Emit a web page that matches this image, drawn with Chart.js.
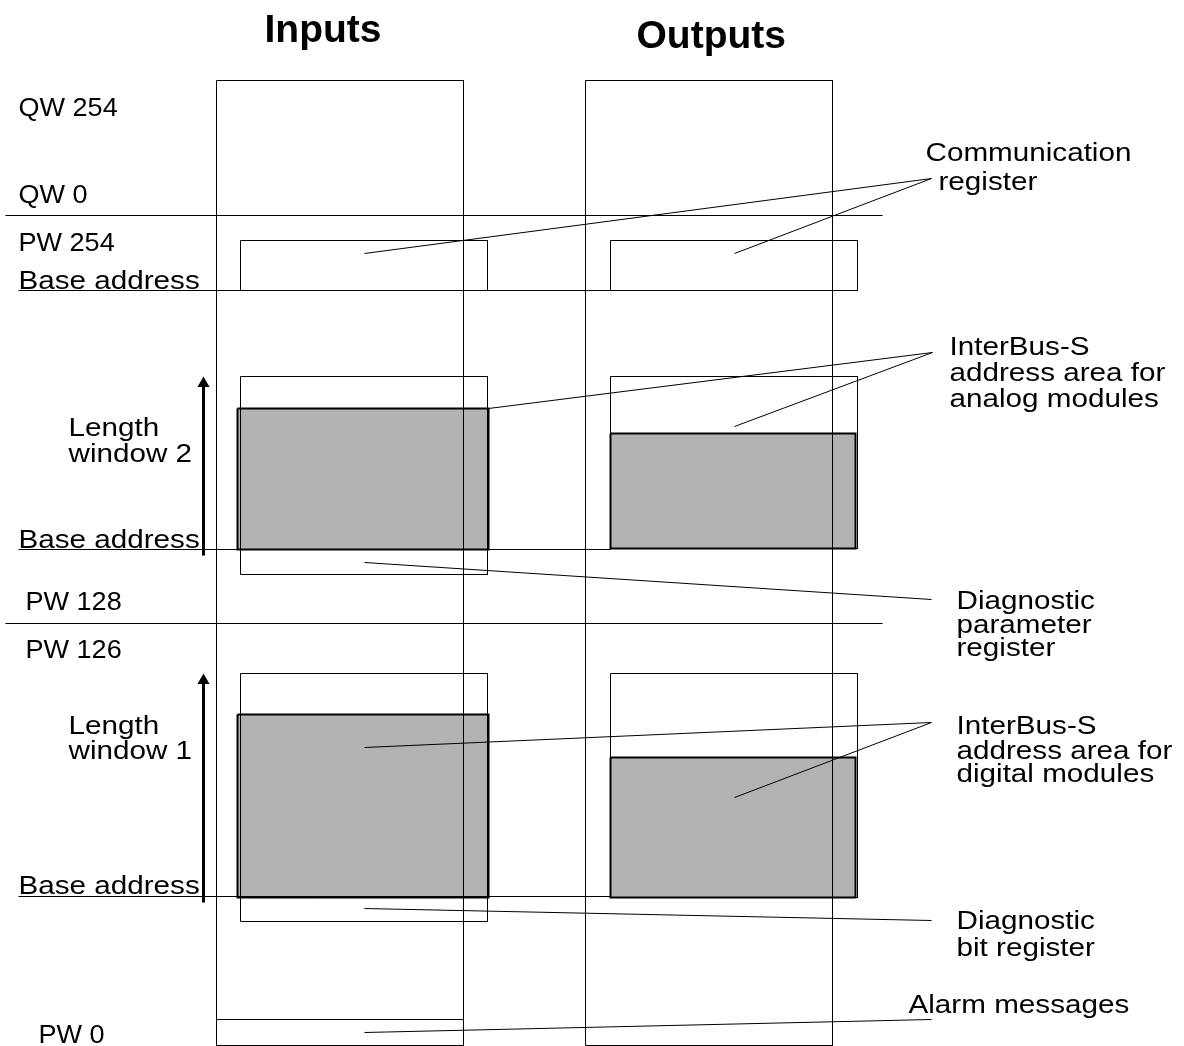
<!DOCTYPE html>
<html>
<head>
<meta charset="utf-8">
<title>InterBus-S address areas</title>
<script src="https://cdn.jsdelivr.net/npm/chart.js@4.4.1/dist/chart.umd.min.js"></script>
<style>
  html, body { margin: 0; padding: 0; background: #fff; }
  #wrap { width: 1184px; height: 1046px; position: relative; }
</style>
</head>
<body>
<div id="wrap"><canvas id="myChart"></canvas></div>
<script>
// Diagram units: x to the right, y downwards (same size as the picture)
const headings = ['Inputs', 'Outputs'];
const headingPos = [[264, 41], [636, 47]];

// the two address columns [x0, x1, y0, y1]
const columns = [[216, 463, 80, 1045], [585, 832, 80, 1045]];
// QW / PW separators and the base address lines [x0, x1, y]
const dividers = [[5, 882, 215], [5, 882, 623]];
const baseLines = [[18, 610, 290], [18, 610, 549], [18, 610, 896]];

// register windows (white) and the occupied InterBus-S areas (grey)
const registerBoxes = [
  [240, 487, 240, 290], [610, 857, 240, 290],   // communication register
  [240, 487, 376, 574], [610, 857, 376, 548],   // window 2
  [240, 487, 673, 921], [610, 857, 673, 897],   // window 1
  [216, 463, 1019, 1045]                        // alarm messages
];
const busAreas = [
  [237, 488, 408, 549], [610, 855, 433, 548],   // analog modules
  [237, 488, 714, 897], [610, 855, 757, 897]    // digital modules
];

// leader lines [x0, y0, x1, y1]
const leaders = [
  [364, 253, 931, 178], [734, 253, 931, 178],
  [488, 408, 932, 352], [734, 426, 932, 352],
  [364, 562, 931, 599],
  [364, 747, 931, 722], [734, 797, 931, 722],
  [364, 908, 931, 920],
  [364, 1032, 931, 1019]
];

// length arrows [x, yBottom, yHead]
const arrows = [[203, 555, 383], [203, 902, 680]];

// texts [text, x, baseline]
const addressLabels = [
  ['QW 254', 18, 115], ['QW 0', 18, 202], ['PW 254', 18, 250],
  ['PW 128', 25, 609], ['PW 126', 25, 657], ['PW 0', 38, 1042]
];
const leftLabels = [
  ['Base address', 18, 288],
  ['Length', 68, 435], ['window 2', 68, 461], ['Base address', 18, 547],
  ['Length', 68, 733], ['window 1', 68, 758], ['Base address', 18, 893]
];
const rightLabels = [
  ['Communication', 925, 160], ['register', 938, 189],
  ['InterBus-S', 949, 354], ['address area for', 949, 380], ['analog modules', 949, 406],
  ['Diagnostic', 956, 608], ['parameter', 956, 632], ['register', 956, 655],
  ['InterBus-S', 956, 733], ['address area for', 956, 758], ['digital modules', 956, 781],
  ['Diagnostic', 956, 928], ['bit register', 956, 955],
  ['Alarm messages', 908, 1012]
];

const FONT = '"Liberation Sans", Arial, Helvetica, sans-serif';

function rect(b) {
  return [
    { x: b[0], y: b[2] }, { x: b[1], y: b[2] }, { x: b[1], y: b[3] },
    { x: b[0], y: b[3] }, { x: b[0], y: b[2] }
  ];
}

function lineSet(points, width, extra) {
  return Object.assign({
    data: points,
    showLine: true,
    borderColor: '#000',
    borderWidth: width,
    pointRadius: 0,
    tension: 0,
    fill: false,
    order: 1
  }, extra || {});
}

const datasets = [];
columns.forEach(c => datasets.push(lineSet(rect(c), 1)));
dividers.forEach(d => datasets.push(lineSet([{ x: d[0], y: d[2] }, { x: d[1], y: d[2] }], 1)));
baseLines.forEach(d => datasets.push(lineSet([{ x: d[0], y: d[2] }, { x: d[1], y: d[2] }], 1)));
registerBoxes.forEach(b => datasets.push(lineSet(rect(b), 1)));
leaders.forEach(l => datasets.push(lineSet([{ x: l[0], y: l[1] }, { x: l[2], y: l[3] }], 1)));
arrows.forEach(a => datasets.push(lineSet([{ x: a[0], y: a[1] }, { x: a[0], y: a[2] }], 3, {
  pointRadius: [0, 7],
  pointStyle: 'triangle',
  pointBackgroundColor: '#000',
  pointBorderColor: '#000',
  pointBorderWidth: 0
})));
busAreas.forEach(b => datasets.push(lineSet(rect(b), 2, {
  backgroundColor: '#b3b3b3',
  fill: 'shape',
  order: 2
})));

function drawTexts(chart, list, stretch) {
  const ctx = chart.ctx;
  const sx = chart.scales.x, sy = chart.scales.y;
  list.forEach(t => {
    ctx.save();
    ctx.translate(sx.getPixelForValue(t[1]), sy.getPixelForValue(t[2]));
    ctx.scale(stretch, 1);
    ctx.fillText(t[0], 0, 0);
    ctx.restore();
  });
}

const textPlugin = {
  id: 'diagramText',
  afterDatasetsDraw(chart) {
    const ctx = chart.ctx;
    const sx = chart.scales.x, sy = chart.scales.y;
    ctx.save();
    ctx.fillStyle = '#000';
    ctx.textBaseline = 'alphabetic';
    ctx.textAlign = 'left';

    ctx.font = 'bold 39px ' + FONT;
    headings.forEach((h, i) => {
      ctx.fillText(h, sx.getPixelForValue(headingPos[i][0]), sy.getPixelForValue(headingPos[i][1]));
    });

    // the lettering in the source is a bit wide, the address numbers less so
    ctx.font = '26px ' + FONT;
    drawTexts(chart, addressLabels, 1.04);
    drawTexts(chart, leftLabels, 1.14);
    drawTexts(chart, rightLabels, 1.14);
    ctx.restore();
  }
};

var ctx = document.getElementById('myChart').getContext('2d');

var myChart = new Chart(ctx, {
  type: 'scatter',
  data: { datasets: datasets },
  options: {
    responsive: true,
    maintainAspectRatio: false,
    animation: false,
    layout: { padding: 0, autoPadding: false },
    plugins: { legend: { display: false }, tooltip: { enabled: false } },
    events: [],
    scales: {
      // half-unit offset so that 1px lines land on pixel centres
      x: { type: 'linear', display: false, min: -0.5, max: 1183.5 },
      y: { type: 'linear', display: false, min: -0.5, max: 1045.5, reverse: true }
    }
  },
  plugins: [textPlugin]
});
</script>
</body>
</html>
